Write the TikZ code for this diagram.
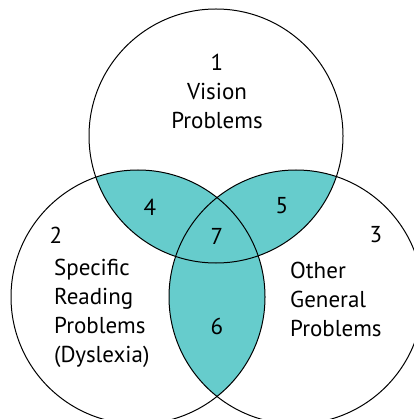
\documentclass[tikz,border=0pt]{standalone}
\usepackage{fontspec}
\setmainfont{PT Sans}
\usepackage{tikz}
\definecolor{lens}{RGB}{102,204,204}
\tikzstyle{set} = [draw=black, line width=1pt]
\tikzstyle{num} = [inner sep=0pt, font=\fontsize{23}{29}\selectfont]
\tikzstyle{label} = [inner sep=0pt, align=left, font=\fontsize{23}{29}\selectfont]

\begin{document}
\begin{tikzpicture}[x=1pt,y=-1pt]
\useasboundingbox (0,0) rectangle (413,419);

\coordinate (V) at (216,136);
\coordinate (D) at (138,297);
\coordinate (G) at (296,297);

% shaded overlaps
\begin{scope}
\clip (V) circle (127pt);
\fill [lens] (D) circle (127pt);
\fill [lens] (G) circle (127pt);
\end{scope}
\begin{scope}
\clip (D) circle (127pt);
\fill [lens] (G) circle (127pt);
\end{scope}

\draw [set] (V) circle (127pt);
\draw [set] (D) circle (127pt);
\draw [set] (G) circle (127pt);

\node (vision) [label, align=center] at (217,91) {1\\Vision\\Problems};
\node (n2) [num] at (56,235) {2};
\node (n3) [num] at (376,235) {3};
\node (n4) [num] at (150,207) {4};
\node (n5) [num] at (282,206) {5};
\node (n6) [num] at (217,326) {6};
\node (n7) [num] at (217,236) {7};

\node (reading) [label, anchor=west] at (54,313) {Specific\\Reading\\Problems\\(Dyslexia)};
\node (general) [label, anchor=west] at (290,299) {Other\\General\\Problems};

\end{tikzpicture}
\end{document}
